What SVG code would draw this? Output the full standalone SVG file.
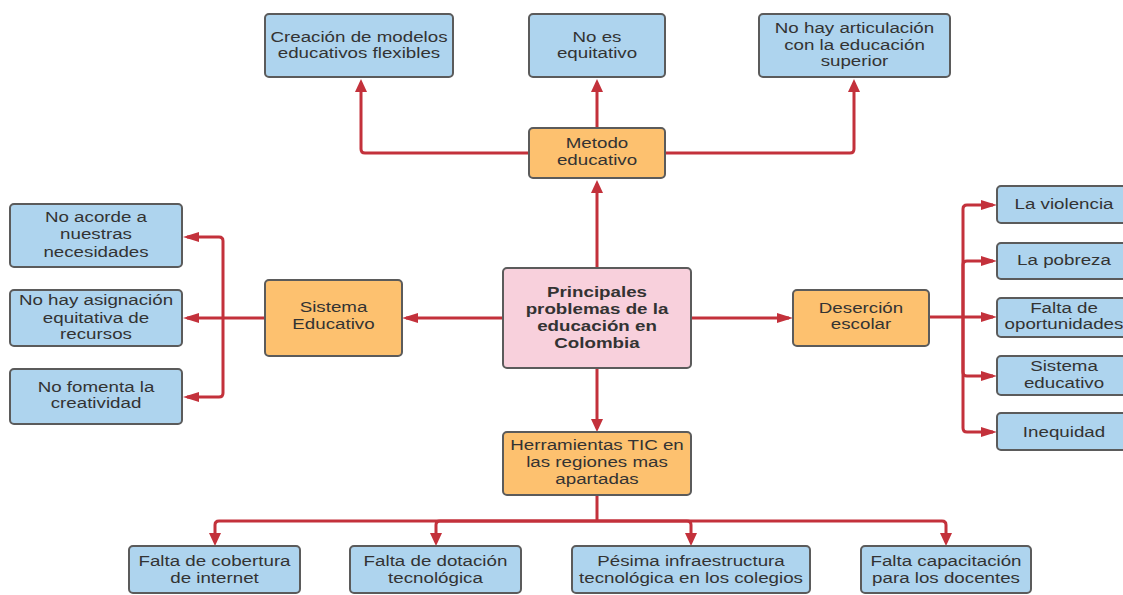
<svg xmlns="http://www.w3.org/2000/svg" width="1123" height="595" viewBox="0 0 1123 595">
<style>
.box{stroke:#5b5b5b;stroke-width:2}
.blue{fill:#aed4ee}
.orange{fill:#fdc16f}
.pink{fill:#f8d0dc}
.t{font-family:"Liberation Sans",Arial,sans-serif;font-size:15px;fill:#333;text-anchor:middle}
.b{font-weight:bold}
.c{fill:none;stroke:#c3313b;stroke-width:3;stroke-linejoin:round}
.h{marker-end:url(#mh)}
.v{marker-end:url(#mv)}
</style>
<defs>
<marker id="mh" markerUnits="userSpaceOnUse" markerWidth="16" markerHeight="10" refX="12" refY="5" orient="auto" viewBox="0 0 16 10"><path d="M0,0 L16,5 L0,10 z" fill="#c3313b"/></marker>
<marker id="mv" markerUnits="userSpaceOnUse" markerWidth="13" markerHeight="12" refX="9" refY="6" orient="auto" viewBox="0 0 13 12"><path d="M0,0 L13,6 L0,12 z" fill="#c3313b"/></marker>
</defs>
<rect width="1123" height="595" fill="#fff"/>
<g id="connectors">
<path class="c v" d="M597,268 V184"/>
<path class="c v" d="M597,128 V83"/>
<path class="c v" d="M529,153 H365 Q361,153 361,149 V83"/>
<path class="c v" d="M665,153 H850 Q854,153 854,149 V83"/>
<path class="c h" d="M503,318 H406"/>
<path class="c" d="M265,318 H223"/>
<path class="c h" d="M223,318 V241 Q223,237 219,237 H187"/>
<path class="c h" d="M223,318 H187"/>
<path class="c h" d="M223,318 V393 Q223,397 219,397 H187"/>
<path class="c h" d="M691,318 H789"/>
<path class="c" d="M929,317 H963"/>
<path class="c h" d="M963,317 V209 Q963,205 967,205 H993"/>
<path class="c h" d="M963,317 V265 Q963,261 967,261 H993"/>
<path class="c h" d="M963,317 H993"/>
<path class="c h" d="M963,317 V372 Q963,376 967,376 H993"/>
<path class="c h" d="M963,317 V428 Q963,432 967,432 H993"/>
<path class="c v" d="M597,368 V428"/>
<path class="c" d="M597,495 V521"/>
<path class="c v" d="M597,521 H219 Q215,521 215,525 V542"/>
<path class="c v" d="M597,521 H440 Q436,521 436,525 V542"/>
<path class="c v" d="M597,521 H687 Q691,521 691,525 V542"/>
<path class="c v" d="M597,521 H942 Q946,521 946,525 V542"/>
</g>
<g id="n-creacion"><rect class="box blue" x="265" y="14" width="188" height="63" rx="4"/><text class="t" transform="translate(359 0) scale(1.25 1)"><tspan x="0" y="42">Creación de modelos</tspan><tspan x="0" y="58">educativos flexibles</tspan></text></g>
<g id="n-noes"><rect class="box blue" x="529" y="14" width="136" height="63" rx="4"/><text class="t" transform="translate(597 0) scale(1.25 1)"><tspan x="0" y="42">No es</tspan><tspan x="0" y="58">equitativo</tspan></text></g>
<g id="n-nohay"><rect class="box blue" x="759" y="14" width="191" height="63" rx="4"/><text class="t" transform="translate(854.5 0) scale(1.25 1)"><tspan x="0" y="33.5">No hay articulación</tspan><tspan x="0" y="50">con la educación</tspan><tspan x="0" y="66.5">superior</tspan></text></g>
<g id="n-metodo"><rect class="box orange" x="529" y="128" width="136" height="50" rx="4"/><text class="t" transform="translate(597 0) scale(1.25 1)"><tspan x="0" y="148">Metodo</tspan><tspan x="0" y="165">educativo</tspan></text></g>
<g id="n-center"><rect class="box pink" x="503" y="268" width="188" height="100" rx="4"/><text class="t b" transform="translate(597 0) scale(1.25 1)"><tspan x="0" y="297">Principales</tspan><tspan x="0" y="314">problemas de la</tspan><tspan x="0" y="331">educación en</tspan><tspan x="0" y="348">Colombia</tspan></text></g>
<g id="n-sistema"><rect class="box orange" x="265" y="280" width="137" height="76" rx="4"/><text class="t" transform="translate(333.5 0) scale(1.25 1)"><tspan x="0" y="312">Sistema</tspan><tspan x="0" y="329">Educativo</tspan></text></g>
<g id="n-noacorde"><rect class="box blue" x="10" y="204" width="172" height="63" rx="4"/><text class="t" transform="translate(96 0) scale(1.25 1)"><tspan x="0" y="222">No acorde a</tspan><tspan x="0" y="239">nuestras</tspan><tspan x="0" y="257">necesidades</tspan></text></g>
<g id="n-noasig"><rect class="box blue" x="10" y="290" width="172" height="56" rx="4"/><text class="t" transform="translate(96 0) scale(1.25 1)"><tspan x="0" y="305">No hay asignación</tspan><tspan x="0" y="323">equitativa de</tspan><tspan x="0" y="339">recursos</tspan></text></g>
<g id="n-nofomenta"><rect class="box blue" x="10" y="369" width="172" height="55" rx="4"/><text class="t" transform="translate(96 0) scale(1.25 1)"><tspan x="0" y="392">No fomenta la</tspan><tspan x="0" y="408">creatividad</tspan></text></g>
<g id="n-desercion"><rect class="box orange" x="793" y="290" width="136" height="56" rx="4"/><text class="t" transform="translate(861 0) scale(1.25 1)"><tspan x="0" y="313">Deserción</tspan><tspan x="0" y="329">escolar</tspan></text></g>
<g id="n-violencia"><rect class="box blue" x="997" y="186" width="135" height="37" rx="4"/><text class="t" transform="translate(1064 0) scale(1.25 1)"><tspan x="0" y="209">La violencia</tspan></text></g>
<g id="n-pobreza"><rect class="box blue" x="997" y="243" width="135" height="36" rx="4"/><text class="t" transform="translate(1064 0) scale(1.25 1)"><tspan x="0" y="265">La pobreza</tspan></text></g>
<g id="n-oportunidades"><rect class="box blue" x="997" y="298" width="135" height="39" rx="4"/><text class="t" transform="translate(1064 0) scale(1.25 1)"><tspan x="0" y="313">Falta de</tspan><tspan x="0" y="329">oportunidades</tspan></text></g>
<g id="n-sisedu"><rect class="box blue" x="997" y="356" width="135" height="39" rx="4"/><text class="t" transform="translate(1064 0) scale(1.25 1)"><tspan x="0" y="371">Sistema</tspan><tspan x="0" y="388">educativo</tspan></text></g>
<g id="n-inequidad"><rect class="box blue" x="997" y="413" width="135" height="37" rx="4"/><text class="t" transform="translate(1064 0) scale(1.25 1)"><tspan x="0" y="437">Inequidad</tspan></text></g>
<g id="n-herramientas"><rect class="box orange" x="503" y="432" width="188" height="63" rx="4"/><text class="t" transform="translate(597 0) scale(1.25 1)"><tspan x="0" y="450">Herramientas TIC en</tspan><tspan x="0" y="467">las regiones mas</tspan><tspan x="0" y="484">apartadas</tspan></text></g>
<g id="n-cobertura"><rect class="box blue" x="129" y="546" width="171" height="47" rx="4"/><text class="t" transform="translate(214.5 0) scale(1.25 1)"><tspan x="0" y="566">Falta de cobertura</tspan><tspan x="0" y="583">de internet</tspan></text></g>
<g id="n-dotacion"><rect class="box blue" x="350" y="546" width="171" height="47" rx="4"/><text class="t" transform="translate(435.5 0) scale(1.25 1)"><tspan x="0" y="566">Falta de dotación</tspan><tspan x="0" y="583">tecnológica</tspan></text></g>
<g id="n-pesima"><rect class="box blue" x="572" y="546" width="238" height="47" rx="4"/><text class="t" transform="translate(691 0) scale(1.25 1)"><tspan x="0" y="566">Pésima infraestructura</tspan><tspan x="0" y="583">tecnológica en los colegios</tspan></text></g>
<g id="n-capacitacion"><rect class="box blue" x="861" y="546" width="170" height="47" rx="4"/><text class="t" transform="translate(946 0) scale(1.25 1)"><tspan x="0" y="566">Falta capacitación</tspan><tspan x="0" y="583">para los docentes</tspan></text></g>
</svg>
